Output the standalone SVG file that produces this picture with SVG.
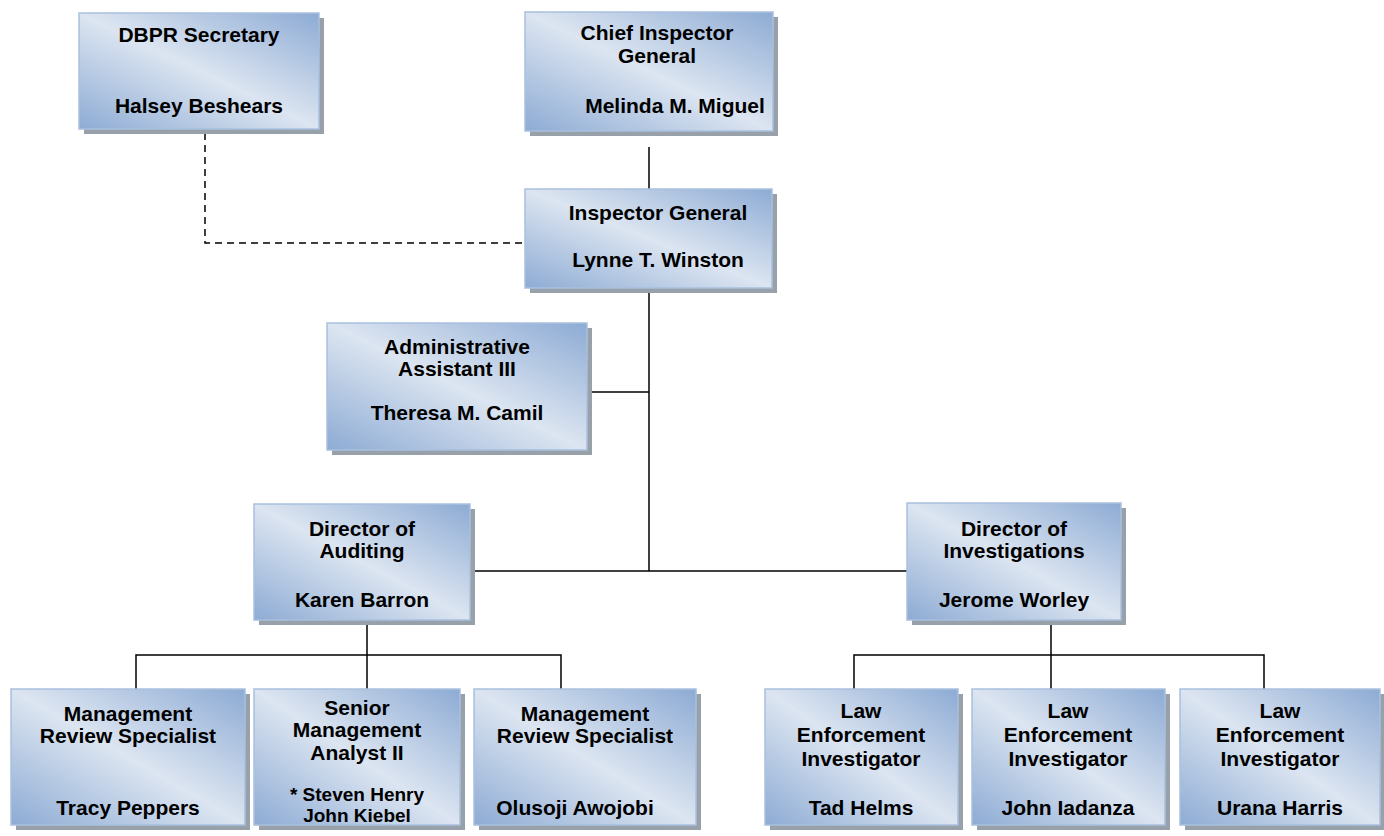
<svg xmlns="http://www.w3.org/2000/svg" width="1384" height="836" viewBox="0 0 1384 836">
<defs>
<linearGradient id="bg" x1="0" y1="1" x2="1" y2="0">
<stop offset="0" stop-color="#8dabd4"/>
<stop offset="0.5" stop-color="#dce5f1"/>
<stop offset="1" stop-color="#8dabd4"/>
</linearGradient>
<style>
.sh{fill:#98a0aa}
.bx{fill:url(#bg);stroke:#a9c0de;stroke-width:1.5}
.t{font-family:"Liberation Sans",Arial,sans-serif;font-weight:bold;font-size:21px;fill:#000;text-anchor:middle}
.s{font-size:19px}
.c{stroke:#000;stroke-width:1.5;fill:none}
.d{stroke:#000;stroke-width:1.5;fill:none;stroke-dasharray:7 5}
</style>
</defs>
<rect width="1384" height="836" fill="#fff"/>
<g id="connectors">
<path class="c" d="M649,147V189"/>
<path class="c" d="M649,288V571"/>
<path class="c" d="M587,392H649"/>
<path class="c" d="M470,571H907"/>
<path class="c" d="M367,620V655M136,689V655H561V689M367,655V689"/>
<path class="c" d="M1051,620V689M854,689V655H1264V689"/>
<path class="d" d="M205,133V243H525"/>
</g>
<g id="dbpr">
<rect class="sh" x="84" y="18" width="240" height="116"/>
<rect class="bx" x="79" y="13" width="240" height="116"/>
<text class="t" x="199" y="42">DBPR Secretary</text>
<text class="t" x="199" y="113">Halsey Beshears</text>
</g>
<g id="chief">
<rect class="sh" x="530" y="17" width="248" height="119"/>
<rect class="bx" x="525" y="12" width="248" height="119"/>
<text class="t" x="657" y="40">Chief Inspector</text>
<text class="t" x="657" y="63">General</text>
<text class="t" x="675" y="113">Melinda M. Miguel</text>
</g>
<g id="ig">
<rect class="sh" x="530" y="194" width="247" height="99"/>
<rect class="bx" x="525" y="189" width="247" height="99"/>
<text class="t" x="658" y="220">Inspector General</text>
<text class="t" x="658" y="267">Lynne T. Winston</text>
</g>
<g id="admin">
<rect class="sh" x="332" y="328" width="260" height="127"/>
<rect class="bx" x="327" y="323" width="260" height="127"/>
<text class="t" x="457" y="354">Administrative</text>
<text class="t" x="457" y="376">Assistant III</text>
<text class="t" x="457" y="420">Theresa M. Camil</text>
</g>
<g id="dir-aud">
<rect class="sh" x="259" y="509" width="216" height="116"/>
<rect class="bx" x="254" y="504" width="216" height="116"/>
<text class="t" x="362" y="536">Director of</text>
<text class="t" x="362" y="558">Auditing</text>
<text class="t" x="362" y="607">Karen Barron</text>
</g>
<g id="dir-inv">
<rect class="sh" x="912" y="508" width="214" height="117"/>
<rect class="bx" x="907" y="503" width="214" height="117"/>
<text class="t" x="1014" y="536">Director of</text>
<text class="t" x="1014" y="558">Investigations</text>
<text class="t" x="1014" y="607">Jerome Worley</text>
</g>
<g id="mrs1">
<rect class="sh" x="16" y="694" width="234" height="136"/>
<rect class="bx" x="11" y="689" width="234" height="136"/>
<text class="t" x="128" y="721">Management</text>
<text class="t" x="128" y="743">Review Specialist</text>
<text class="t" x="128" y="815">Tracy Peppers</text>
</g>
<g id="sma">
<rect class="sh" x="259" y="694" width="206" height="136"/>
<rect class="bx" x="254" y="689" width="206" height="136"/>
<text class="t" x="357" y="715">Senior</text>
<text class="t" x="357" y="737">Management</text>
<text class="t" x="357" y="760">Analyst II</text>
<text class="t s" x="357" y="801">* Steven Henry</text>
<text class="t s" x="357" y="822">John Kiebel</text>
</g>
<g id="mrs2">
<rect class="sh" x="479" y="694" width="222" height="136"/>
<rect class="bx" x="474" y="689" width="222" height="136"/>
<text class="t" x="585" y="721">Management</text>
<text class="t" x="585" y="743">Review Specialist</text>
<text class="t" x="575" y="815">Olusoji Awojobi</text>
</g>
<g id="lei1">
<rect class="sh" x="770" y="694" width="193" height="136"/>
<rect class="bx" x="765" y="689" width="193" height="136"/>
<text class="t" x="861" y="718">Law</text>
<text class="t" x="861" y="742">Enforcement</text>
<text class="t" x="861" y="766">Investigator</text>
<text class="t" x="861" y="815">Tad Helms</text>
</g>
<g id="lei2">
<rect class="sh" x="977" y="694" width="193" height="136"/>
<rect class="bx" x="972" y="689" width="193" height="136"/>
<text class="t" x="1068" y="718">Law</text>
<text class="t" x="1068" y="742">Enforcement</text>
<text class="t" x="1068" y="766">Investigator</text>
<text class="t" x="1068" y="815">John Iadanza</text>
</g>
<g id="lei3">
<rect class="sh" x="1185" y="694" width="200" height="136"/>
<rect class="bx" x="1180" y="689" width="200" height="136"/>
<text class="t" x="1280" y="718">Law</text>
<text class="t" x="1280" y="742">Enforcement</text>
<text class="t" x="1280" y="766">Investigator</text>
<text class="t" x="1280" y="815">Urana Harris</text>
</g>
</svg>
